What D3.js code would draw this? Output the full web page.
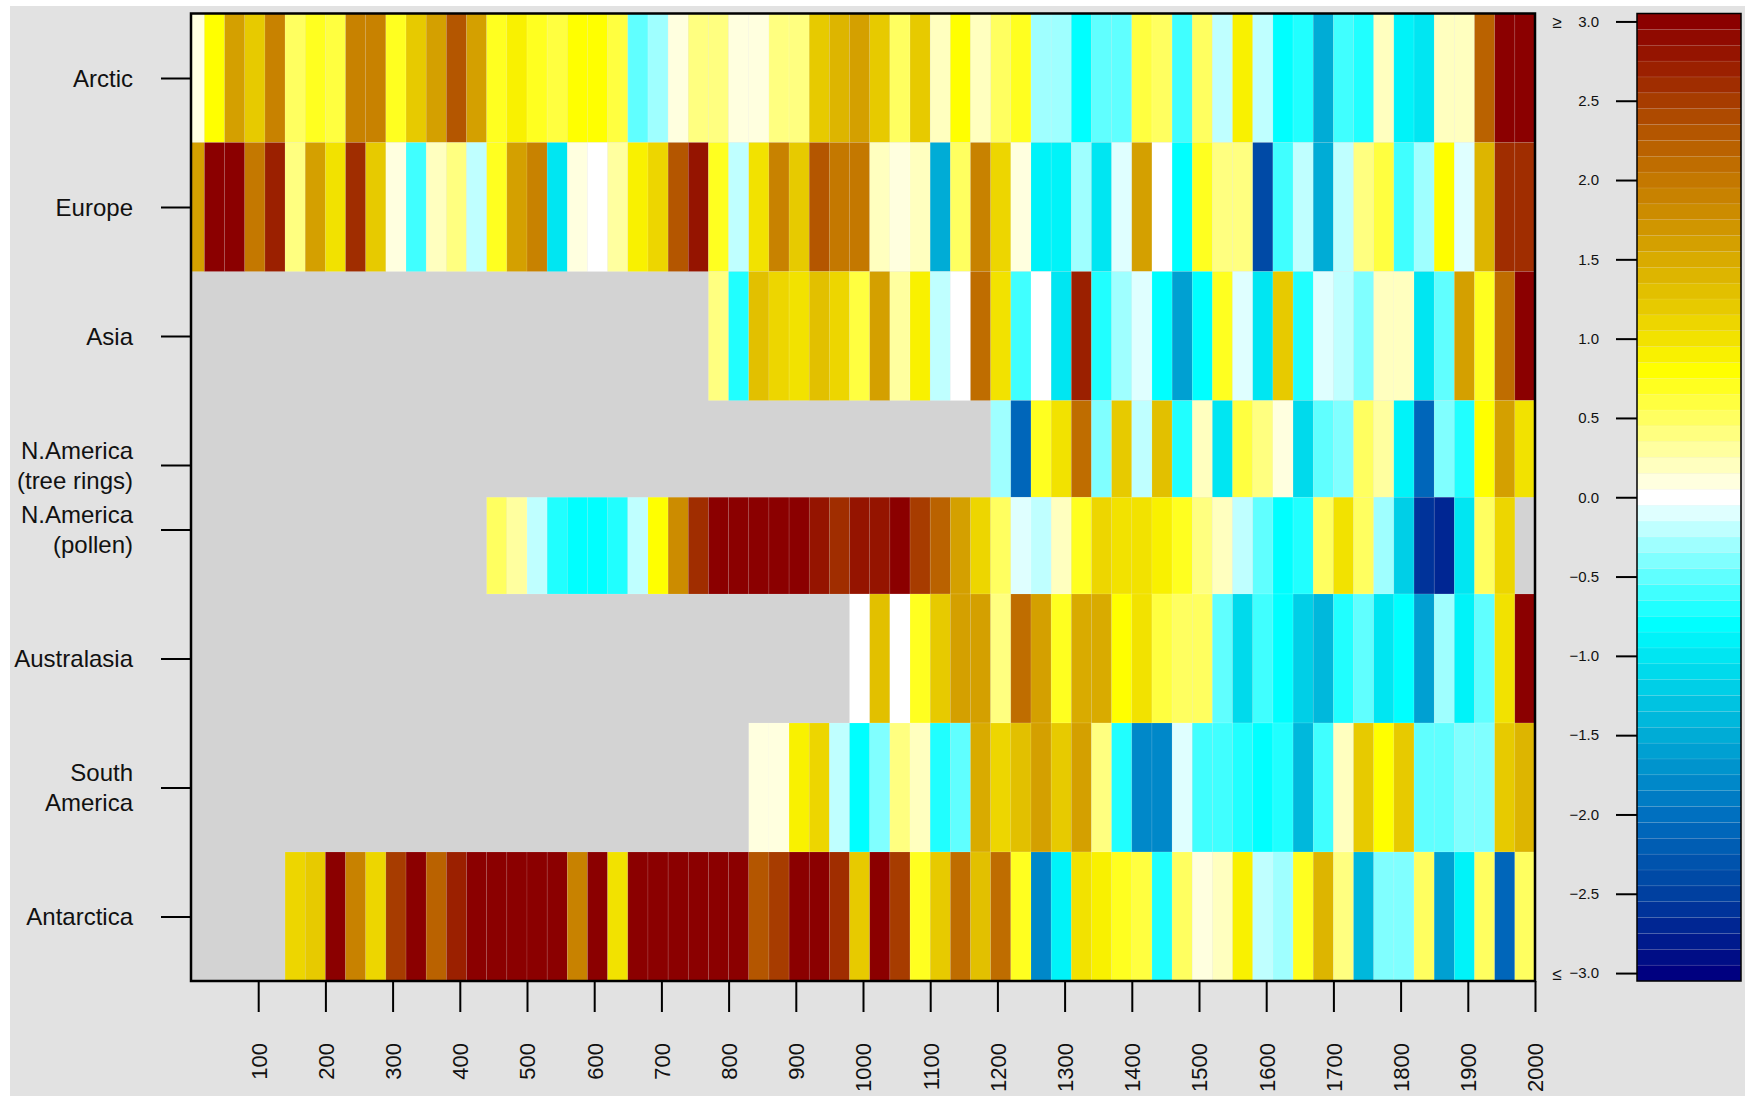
<!DOCTYPE html>
<html>
<head>
<meta charset="utf-8">
<script src="https://cdn.jsdelivr.net/npm/d3@7/dist/d3.min.js"></script>
<style>
  html, body { margin: 0; padding: 0; background: #ffffff; }
  svg { display: block; }
  text { font-family: "Liberation Sans", Arial, Helvetica, sans-serif; fill: #111; }
</style>
</head>
<body>
<svg id="chart" width="1745" height="1096"></svg>
<script>
// Regional temperature anomalies (standardised), 30-year means, 0–2000 CE.
// Each series starts at the year given in seriesStart and runs bin by bin.
const regions = ["Arctic", "Europe", "Asia", "N.America\n(tree rings)",
                 "N.America\n(pollen)", "Australasia", "South\nAmerica", "Antarctica"];
const seriesStart = [0, 0, 770, 1190, 440, 980, 830, 140];

const arctic = [0.1, 0.8, 1.6, 1.2, 1.9, 0.5, 0.7, 0.6, 1.9, 1.9, 0.7, 1.2, 1.6, 2.3, 1.6, 0.7, 0.9, 0.7, 0.6, 0.8,
  0.8, 0.6, -0.5, -0.3, 0.1, 0.4, 0.4, 0.1, 0.1, 0.4, 0.4, 1.2, 1.4, 1.6, 1.2, 0.5, 1.2, 0.2, 0.8, 0.2,
  0.5, 0.7, -0.3, -0.3, -0.8, -0.5, -0.5, 0.6, 0.5, -0.6, 0.5, -0.2, 0.9, -0.2, -0.8, -0.7, -1.5, -0.6, -0.7, 0.2,
  -0.9, -1.0, 0.2, 0.2, 2.2, 3.0, 3.0];
const europe = [1.6, 3.0, 3.0, 2.0, 2.7, 0.4, 1.6, 1.0, 2.6, 1.2, 0.1, -0.6, 0.2, 0.4, -0.2, 0.7, 1.6, 1.9, -1.0, 0.1,
  0.0, 0.3, 0.9, 1.1, 2.3, 2.8, 0.7, -0.2, 1.0, 1.9, 1.2, 2.3, 2.0, 2.0, 0.2, 0.1, 0.2, -1.5, 0.5, 1.9,
  1.1, 0.1, -0.9, -0.9, -0.3, -1.0, -0.1, 1.6, 0.0, -0.8, 0.7, 0.4, 0.4, -2.4, -0.6, -0.2, -1.5, -0.2, 0.4, 0.6,
  -0.6, -0.3, 0.8, -0.1, 1.4, 2.6, 2.6];
const asia = [0.4, -0.7, 1.3, 1.1, 1.0, 1.3, 1.1, 0.6, 1.6, 0.3, 0.9, -0.2, 0.0, 2.1, 1.0, -0.6, 0.0, -1.0, 2.7, -0.7,
  -0.3, -0.1, -0.8, -1.6, -0.8, 0.7, -0.1, -1.0, 1.2, -0.7, -0.1, -0.2, -0.4, 0.2, 0.2, -1.0, -0.5, 1.6, 0.7, 2.1,
  3.0];
const naTreeRings = [-0.3, -2.1, 0.7, 1.0, 2.1, -0.4, 1.2, -0.2, 1.3, -0.7, 0.2, -1.0, 0.6, 0.4, 0.1, -1.1, -0.5, -0.4,
  0.5, 0.3, -0.9, -2.1, -0.4, -0.7, 0.8, 1.6, 1.0];
const naPollen = [0.5, 0.3, -0.2, -0.7, -0.8, -0.8, -0.7, -0.2, 0.8, 1.8, 2.6, 3.0, 3.0, 3.0, 3.0, 3.0, 2.8, 2.6, 2.8,
  2.8, 3.0, 2.5, 2.2, 1.6, 1.1, 0.5, -0.1, -0.2, 0.2, 0.7, 1.1, 1.0, 1.0, 0.9, 0.7, 0.4, 0.2, -0.2, -0.5, -0.8,
  -0.7, 0.5, 1.0, 0.5, -0.3, -1.2, -2.6, -2.7, -1.0, 0.5, 1.1];
const australasia = [0.0, 1.3, 0.0, 0.7, 1.2, 1.6, 1.6, 0.4, 2.1, 1.6, 0.7, 1.5, 1.5, 0.8, 1.0, 0.6, 0.5, 0.5, -0.5,
  -1.1, -0.6, -0.8, -1.2, -1.4, -0.7, -0.5, -1.0, -0.8, -1.6, -0.3, -0.9, -0.5, 1.0, 3.0];
const southAmerica = [0.1, 0.1, 0.9, 1.1, -0.2, -0.8, -0.4, 0.4, 0.2, -0.7, -0.5, 1.5, 1.1, 1.3, 1.6, 1.2, 1.6, 0.4,
  -0.7, -1.8, -1.8, -0.1, -0.6, -0.6, -0.7, -0.8, -0.7, -1.4, -0.6, 0.2, 1.2, 0.8, 1.2, -0.5, -0.5, -0.4, -0.4, 1.2,
  1.4];
const antarctica = [1.1, 1.2, 3.0, 1.9, 1.1, 2.5, 3.0, 2.2, 2.7, 3.0, 3.0, 3.0, 3.0, 3.0, 1.9, 3.0, 1.0, 3.0, 3.0,
  3.0, 3.0, 3.0, 3.0, 2.3, 2.5, 3.0, 3.0, 2.6, 1.2, 3.0, 2.5, 0.7, 1.2, 2.1, 1.3, 2.1, 0.7, -1.8, -0.9, 1.0,
  0.9, 0.7, 0.6, -0.7, 0.5, 0.1, 0.2, 0.9, -0.2, -0.3, 0.7, 1.4, 0.4, -1.4, -0.4, -0.4, 0.5, -1.6, -0.9, 0.5,
  -2.1, 0.5];
const series = [arctic, europe, asia, naTreeRings, naPollen, australasia, southAmerica, antarctica];

const xTicks = [100, 200, 300, 400, 500, 600, 700, 800, 900, 1000,
                1100, 1200, 1300, 1400, 1500, 1600, 1700, 1800, 1900, 2000];
const legendTicks = [-3, -2.5, -2, -1.5, -1, -0.5, 0, 0.5, 1, 1.5, 2, 2.5, 3];

// ---- layout ----
const rowPos = [7.5, 6.5, 5.5, 4.5, 4, 3, 2, 1];           // row centres on the y scale
const plot = { left: 191, right: 1535, top: 13.5, bottom: 981 };
const legend = { left: 1637, right: 1741 };

// Bin edges: a short first bin (0–20), then 30-year bins ending at 2000
const binEdges = [0].concat(d3.range(20, 2001, 30));

// Colour ramp: blue–cyan–white–yellow–brown–dark red, in 0.1 steps
const stopVals = [-3, -2.5, -2, -1.5, -1, -0.8, 0, 0.8, 1, 1.2, 1.4, 1.6, 1.8, 2, 2.2, 2.4, 2.6, 2.8, 3];
const stopCols = ["#000080", "#0040a0", "#0070c0", "#00acd6", "#00e6f2", "#00ffff", "#ffffff", "#ffff00",
  "#f2e200", "#e7ca00", "#ddb500", "#d4a000", "#cc8c00", "#c47800", "#ba6200", "#ae4a00", "#a02d00",
  "#951400", "#8b0000"];
const ramp = d3.scaleLinear().domain(stopVals).range(stopCols).interpolate(d3.interpolateRgb).clamp(true);
const colour = v => ramp(Math.round(Math.max(-3, Math.min(3, v)) * 10) / 10);

const svg = d3.select("#chart");

// page background (white margin, grey figure area)
svg.append("rect").attr("x", 0).attr("y", 0).attr("width", 1745).attr("height", 1096).attr("fill", "#ffffff");
svg.append("rect").attr("x", 10).attr("y", 6).attr("width", 1735).attr("height", 1090).attr("fill", "#e2e2e2");

const x = d3.scaleLinear().domain([0, 2000]).range([plot.left, plot.right]);
const y = d3.scaleLinear().domain([0.5, 8]).range([plot.bottom, plot.top]);

// row extents: midpoints between neighbouring row centres
const rowEdges = rowPos.map((p, i) => {
  const up = i === 0 ? p + 0.5 : (p + rowPos[i - 1]) / 2;
  const down = i === rowPos.length - 1 ? p - 0.5 : (p + rowPos[i + 1]) / 2;
  return { up, down };
});

// missing-data background
svg.append("rect")
  .attr("x", x(0)).attr("y", y(8))
  .attr("width", x(2000) - x(0)).attr("height", y(0.5) - y(8))
  .attr("fill", "#d3d3d3");

// heatmap cells
const cells = [];
series.forEach((vals, r) => {
  const startIdx = binEdges.indexOf(seriesStart[r]);
  vals.forEach((v, j) => {
    const b = startIdx + j;
    cells.push({ r, x0: binEdges[b], x1: binEdges[b + 1], v });
  });
});

svg.append("g").selectAll("rect").data(cells).join("rect")
  .attr("x", d => x(d.x0))
  .attr("width", d => x(d.x1) - x(d.x0))
  .attr("y", d => y(rowEdges[d.r].up))
  .attr("height", d => y(rowEdges[d.r].down) - y(rowEdges[d.r].up))
  .attr("fill", d => colour(d.v))
  .attr("stroke", "rgba(255,255,255,0.18)")
  .attr("stroke-width", 0.6);

// plot frame
svg.append("rect")
  .attr("x", plot.left).attr("y", plot.top)
  .attr("width", plot.right - plot.left).attr("height", plot.bottom - plot.top)
  .attr("fill", "none").attr("stroke", "#000").attr("stroke-width", 2.5);

// x axis
const xAxis = svg.append("g")
  .attr("transform", `translate(0,${plot.bottom})`)
  .call(d3.axisBottom(x).tickValues(xTicks).tickSize(31).tickSizeOuter(0).tickFormat(d3.format("d")));
xAxis.select(".domain").remove();
xAxis.selectAll(".tick line").attr("stroke", "#000").attr("stroke-width", 2);
xAxis.selectAll(".tick text")
  .attr("font-size", 22)
  .attr("transform", "translate(0,62) rotate(-90)")
  .attr("x", 0).attr("y", 0).attr("dy", "0.36em")
  .attr("text-anchor", "end")
  .style("font-family", "'Liberation Sans', Arial, sans-serif")
  .attr("fill", "#111");

// y axis with region names
const yAxis = svg.append("g")
  .attr("transform", `translate(${plot.left},0)`)
  .call(d3.axisLeft(y).tickValues(rowPos).tickSize(30).tickSizeOuter(0).tickFormat(""));
yAxis.select(".domain").remove();
yAxis.selectAll(".tick line").attr("stroke", "#000").attr("stroke-width", 2);
yAxis.selectAll(".tick").each(function (d, i) {
  const lines = regions[i].split("\n");
  const t = d3.select(this).append("text")
    .attr("x", -58).attr("text-anchor", "end")
    .attr("font-size", 24).attr("fill", "#111")
    .style("font-family", "'Liberation Sans', Arial, sans-serif");
  lines.forEach((ln, k) => {
    t.append("tspan").attr("x", -58)
      .attr("y", (k - (lines.length - 1) / 2) * 30)
      .attr("dy", "0.35em").text(ln);
  });
});

// colour bar
const cy = d3.scaleLinear().domain([-3.05, 3.05]).range([plot.bottom, plot.top]);
const bands = d3.range(-30, 31).map(i => i / 10);
svg.append("g").selectAll("rect").data(bands).join("rect")
  .attr("x", legend.left).attr("width", legend.right - legend.left)
  .attr("y", d => cy(d + 0.05)).attr("height", d => cy(d - 0.05) - cy(d + 0.05))
  .attr("fill", d => colour(d))
  .attr("stroke", "rgba(255,255,255,0.12)").attr("stroke-width", 0.6);
svg.append("rect")
  .attr("x", legend.left).attr("y", plot.top)
  .attr("width", legend.right - legend.left).attr("height", plot.bottom - plot.top)
  .attr("fill", "none").attr("stroke", "#000").attr("stroke-width", 1.5);

const fmt = d3.format(".1f");
const cAxis = svg.append("g")
  .attr("transform", `translate(${legend.left},0)`)
  .call(d3.axisLeft(cy).tickValues(legendTicks).tickSize(21).tickSizeOuter(0).tickFormat(fmt));
cAxis.select(".domain").remove();
cAxis.selectAll(".tick line").attr("stroke", "#000").attr("stroke-width", 2);
cAxis.selectAll(".tick text")
  .attr("x", -38).attr("font-size", 15).attr("fill", "#111")
  .style("font-family", "'Liberation Sans', Arial, sans-serif");
// open-ended markers on the extreme classes
cAxis.selectAll(".tick").filter(d => Math.abs(d) === 3).append("text")
  .attr("x", -80)
  .attr("text-anchor", "middle").attr("dy", "0.35em")
  .attr("font-size", 17).attr("fill", "#111")
  .style("font-family", "'Liberation Sans', Arial, sans-serif")
  .text(d => d > 0 ? "≥" : "≤");
</script>
</body>
</html>
